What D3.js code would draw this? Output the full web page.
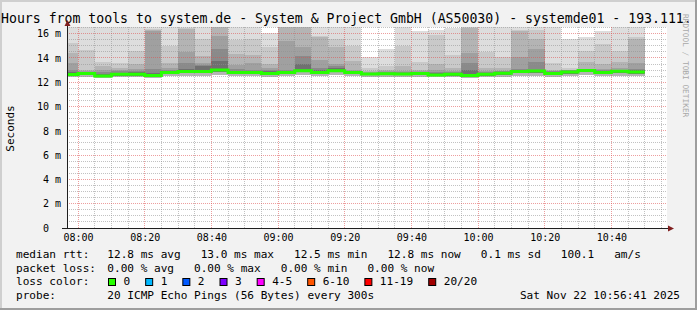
<!DOCTYPE html>
<html>
<head>
<meta charset="utf-8">
<script src="https://cdn.jsdelivr.net/npm/d3@7"></script>
<style>
  html, body { margin: 0; padding: 0; background: #f2f2f2; }
  svg { display: block; }
  text { font-family: "DejaVu Sans Mono", monospace; white-space: pre; }
</style>
</head>
<body>
<div id="chart"></div>
<script>
// ---- data ----
const title = 'Hours from tools to system.de - System & Project GmbH (AS50030) - systemde01 - 193.111.';
const firstStep = new Date(2025, 10, 22, 7, 55, 0);   // each step is one 300s probe round
const viewStart = new Date(2025, 10, 22, 7, 56, 41);
const viewEnd = new Date(2025, 10, 22, 10, 56, 41);

// median rtt per step (ms)
const medianRtt = [12.63, 12.72, 12.52, 12.66, 12.66, 12.55, 12.80, 12.88, 12.88, 13.00,
  12.80, 12.80, 12.73, 12.80, 12.95, 12.80, 12.95, 12.80, 12.67, 12.70,
  12.67, 12.73, 12.60, 12.65, 12.55, 12.65, 12.75, 12.88, 12.92, 12.73,
  12.85, 12.97, 12.80, 12.90, 12.85];
// fastest ping per step (bottom of the light smoke)
const minRtt = [12.40, 12.45, 12.35, 12.40, 12.40, 12.35, 12.50, 12.55, 12.55, 12.60,
  12.50, 12.50, 12.45, 12.50, 12.60, 12.50, 12.60, 12.50, 12.45, 12.45,
  12.45, 12.45, 12.40, 12.40, 12.35, 12.40, 12.45, 12.50, 12.55, 12.45,
  12.50, 12.60, 12.50, 12.50, 12.50];
// bottom of the darker smoke
const lowRtt = [12.52, 12.60, 12.42, 12.55, 12.55, 12.45, 12.68, 12.75, 12.75, 12.85,
  12.68, 12.68, 12.60, 12.68, 12.82, 12.68, 12.82, 12.68, 12.56, 12.58,
  12.56, 12.60, 12.50, 12.54, 12.45, 12.54, 12.62, 12.75, 12.80, 12.60,
  12.72, 12.85, 12.68, 12.78, 12.72];
// top of each smoke layer per step, lightest (slowest pings) first (ms)
const smokeTop = [
  [17, 15.2, 14.4, 13.6, 13.0, 12.85],
  [17, 14.65, 13.05, 12.95, 12.88, 12.82],
  [17, 13.7, 13.3, 13.0, 12.85, 12.7],
  [17, 13.55, 13.2, 13.0, 12.9, 12.8],
  [17, 14.6, 13.5, 13.1, 12.95, 12.82],
  [17, 16.4, 16.3, 16.2, 13.1, 12.8],
  [17, 15.0, 13.6, 13.2, 13.0, 12.95],
  [17, 16.45, 16.4, 14.5, 13.6, 13.1],
  [17, 15.55, 14.2, 13.55, 13.45, 13.3],
  [17, 17, 17, 15.8, 14.7, 13.75],
  [17, 15.5, 14.3, 13.4, 13.1, 12.95],
  [17, 15.6, 14.25, 13.55, 13.0, 12.95],
  [16.05, 14.9, 13.5, 13.2, 13.0, 12.9],
  [17, 17, 17, 15.4, 13.0, 12.95],
  [17, 17, 17, 14.9, 14.2, 13.5],
  [17, 15.8, 15.75, 13.8, 13.2, 13.0],
  [17, 15.55, 14.9, 13.5, 13.3, 13.2],
  [17, 15.0, 13.75, 13.0, 12.95, 12.9],
  [14.1, 13.15, 12.95, 12.85, 12.8, 12.75],
  [14.7, 13.35, 13.0, 12.9, 12.85, 12.8],
  [17, 15.0, 13.35, 12.95, 12.85, 12.8],
  [16.25, 13.65, 13.0, 12.9, 12.85, 12.8],
  [16.3, 15.9, 13.5, 13.0, 12.85, 12.75],
  [16.45, 14.25, 13.2, 12.95, 12.85, 12.8],
  [17, 17, 16.5, 14.4, 13.6, 13.0],
  [17, 14.5, 13.2, 12.95, 12.85, 12.8],
  [17, 14.1, 13.2, 12.95, 12.9, 12.85],
  [17, 16.3, 16.2, 14.05, 13.1, 12.95],
  [17, 16.3, 15.55, 14.7, 13.65, 13.0],
  [17, 13.55, 13.0, 12.95, 12.9, 12.85],
  [15.55, 13.2, 13.05, 13.0, 12.98, 12.95],
  [15.7, 14.6, 13.65, 13.1, 13.05, 13.03],
  [16.25, 15.15, 13.5, 13.1, 13.0, 12.95],
  [17, 14.6, 13.65, 13.2, 13.05, 13.0],
  [17, 15.7, 15.6, 13.55, 13.1, 13.0]
];
const smokeColors = ['#dddddd', '#c9c9c9', '#b4b4b4', '#a0a0a0', '#8a8a8a', '#707070'];

const yTicks = [0, 2, 4, 6, 8, 10, 12, 14, 16];
const yMax = 16.55;

const statNames = ['avg', 'max', 'min', 'now'];
const rttStats = [12.8, 13.0, 12.5, 12.8];
const rttSd = 0.1;
const rttAmps = 100.1;
const lossStats = [0, 0, 0, 0];
const lossLabels = ['0', '1', '2', '3', '4-5', '6-10', '11-19', '20/20'];
const lossColors = ['#26ff00', '#00b8ff', '#0059ff', '#7e00ff', '#ff00ff', '#ff5500', '#ff0000', '#a10000'];
const probeText = '20 ICMP Echo Pings (56 Bytes) every 300s';
const stampText = 'Sat Nov 22 10:56:41 2025';

// ---- chart ----
const W = 697, H = 310;
const margin = { top: 27, right: 30, bottom: 82, left: 67 };
const width = W - margin.left - margin.right;
const height = H - margin.top - margin.bottom;

const svg = d3.select('#chart').append('svg').attr('width', W).attr('height', H);
svg.append('rect').attr('width', W).attr('height', H).attr('fill', '#f2f2f2');
svg.append('path').attr('d', `M0,0H${W}V2H2V${H}H0Z`).attr('fill', '#cfcfcf');
svg.append('path').attr('d', `M${W},${H}H0V${H - 2}H${W - 2}V0H${W}Z`).attr('fill', '#9e9e9e');

svg.append('text')
  .attr('x', 1).attr('y', 23)
  .attr('font-size', 13.2)
  .text(title);

svg.append('text')
  .attr('transform', 'translate(683,14) rotate(90)')
  .attr('font-size', 7.8)
  .attr('fill', '#a8a8a8')
  .text('RRDTOOL / TOBI OETIKER');

const x = d3.scaleTime().domain([viewStart, viewEnd]).range([0, width]);
const y = d3.scaleLinear().domain([0, yMax]).range([height, 0]);

const g = svg.append('g').attr('transform', `translate(${margin.left},${margin.top})`);
g.append('rect').attr('width', width).attr('height', height).attr('fill', '#ffffff');
g.append('clipPath').attr('id', 'plotclip')
  .append('rect').attr('width', width).attr('height', height);

const stepStart = (i) => d3.timeMinute.offset(firstStep, 5 * i);
const stepEnd = (i) => d3.timeMinute.offset(firstStep, 5 * (i + 1));
const steps = d3.range(medianRtt.length);

const smoke = g.append('g').attr('clip-path', 'url(#plotclip)').attr('shape-rendering', 'crispEdges');
smokeColors.forEach((col, j) => {
  smoke.selectAll(null)
    .data(steps)
    .enter()
    .append('rect')
    .attr('x', (i) => x(stepStart(i)))
    .attr('width', (i) => x(stepEnd(i)) - x(stepStart(i)))
    .attr('y', (i) => y(smokeTop[i][j]))
    .attr('height', (i) => y(j < 3 ? minRtt[i] : lowRtt[i]) - y(smokeTop[i][j]))
    .attr('fill', col);
});

// grid on top of the smoke, like rrdtool
const grid = g.append('g').attr('shape-rendering', 'crispEdges').attr('stroke-dasharray', '1,1');
const minorTimes = d3.timeMinute.every(5).range(viewStart, viewEnd);
const majorTimes = d3.timeMinute.every(20).range(viewStart, viewEnd);
const minorVals = d3.range(0.5, yMax, 0.5).filter((v) => v % 2 !== 0);
const majorVals = yTicks.filter((v) => v > 0);

grid.selectAll('.vmin').data(minorTimes.filter((t) => t.getMinutes() % 20 !== 0)).enter()
  .append('line').attr('x1', (d) => x(d)).attr('x2', (d) => x(d))
  .attr('y1', 0).attr('y2', height).attr('stroke', 'rgba(143,143,143,0.55)');
grid.selectAll('.hmin').data(minorVals).enter()
  .append('line').attr('x1', 0).attr('x2', width)
  .attr('y1', (d) => y(d)).attr('y2', (d) => y(d)).attr('stroke', 'rgba(143,143,143,0.55)');
grid.selectAll('.vmaj').data(majorTimes).enter()
  .append('line').attr('x1', (d) => x(d)).attr('x2', (d) => x(d))
  .attr('y1', 0).attr('y2', height).attr('stroke', 'rgba(222,79,79,0.55)');
grid.selectAll('.hmaj').data(majorVals).enter()
  .append('line').attr('x1', 0).attr('x2', width)
  .attr('y1', (d) => y(d)).attr('y2', (d) => y(d)).attr('stroke', 'rgba(222,79,79,0.55)');

// median rtt, coloured by loss (all steps 0 loss)
const medPts = steps.map((i) => [stepStart(i), medianRtt[i]]);
medPts.push([stepEnd(steps.length - 1), medianRtt[steps.length - 1]]);
g.append('path')
  .datum(medPts)
  .attr('clip-path', 'url(#plotclip)')
  .attr('fill', 'none')
  .attr('stroke', lossColors[0])
  .attr('stroke-width', 3)
  .attr('d', d3.line().x((d) => x(d[0])).y((d) => y(d[1])).curve(d3.curveStepAfter));

// axes
const yAxis = g.append('g')
  .call(d3.axisLeft(y).tickValues(yTicks).tickSize(0).tickPadding(6)
    .tickFormat((v) => (v === 0 ? '0  ' : `${v} m`)));
yAxis.select('.domain').remove();
yAxis.selectAll('text').attr('font-family', '"DejaVu Sans Mono", monospace').attr('font-size', 10).attr('fill', '#000');

const xAxis = g.append('g')
  .attr('transform', `translate(0,${height})`)
  .call(d3.axisBottom(x).tickValues(majorTimes).tickSize(0).tickPadding(6)
    .tickFormat(d3.timeFormat('%H:%M')));
xAxis.select('.domain').remove();
xAxis.selectAll('text').attr('font-family', '"DejaVu Sans Mono", monospace').attr('font-size', 10).attr('fill', '#000');

g.append('line').attr('x1', 0.5).attr('x2', 0.5).attr('y1', height + 0.5).attr('y2', -3)
  .attr('stroke', '#1f1f1f');
g.append('line').attr('x1', -5).attr('x2', width + 2).attr('y1', height + 0.5).attr('y2', height + 0.5)
  .attr('stroke', '#1f1f1f');
g.append('path').attr('d', 'M-2.5,-1L3.5,-1L0.5,-7Z').attr('fill', '#801f1f');
g.append('path').attr('d', `M${width + 1},${height - 2.5}L${width + 1},${height + 3.5}L${width + 7},${height + 0.5}Z`)
  .attr('fill', '#801f1f');

svg.append('text')
  .attr('transform', `translate(14,${margin.top + height / 2 + 1}) rotate(-90)`)
  .attr('text-anchor', 'middle')
  .attr('font-size', 11)
  .text('Seconds');

// legend
const lf = 11.08;
const cw = 6.67;
const legend = svg.append('g').attr('font-size', lf);
const rttLine = statNames.map((n, k) => `${rttStats[k].toFixed(1)} ms ${n}   `).join('')
  + `${rttSd.toFixed(1)} ms sd   ${rttAmps.toFixed(1)}   am/s`;
const lossLine = statNames.map((n, k) => `${lossStats[k].toFixed(2)} % ${n}`).join('   ');

legend.append('text').attr('x', 16).attr('y', 258).text('median rtt:');
legend.append('text').attr('x', 107.3).attr('y', 258).text(rttLine);
legend.append('text').attr('x', 16).attr('y', 271.5).text('packet loss:');
legend.append('text').attr('x', 107.3).attr('y', 271.5).text(lossLine);
legend.append('text').attr('x', 16).attr('y', 285).text('loss color:');

let cx = 108.5;
lossLabels.forEach((lab, k) => {
  legend.append('rect')
    .attr('x', cx).attr('y', 278.5).attr('width', 7).attr('height', 7)
    .attr('fill', lossColors[k]).attr('stroke', '#000').attr('stroke-width', 1);
  legend.append('text').attr('x', cx + 15).attr('y', 285).text(lab);
  cx += 15 + lab.length * cw + 15.5;
});

legend.append('text').attr('x', 16).attr('y', 298.5).text('probe:');
legend.append('text').attr('x', 107.3).attr('y', 298.5).text(probeText);
legend.append('text').attr('x', 680).attr('y', 298.5).attr('text-anchor', 'end').text(stampText);
</script>
</body>
</html>
